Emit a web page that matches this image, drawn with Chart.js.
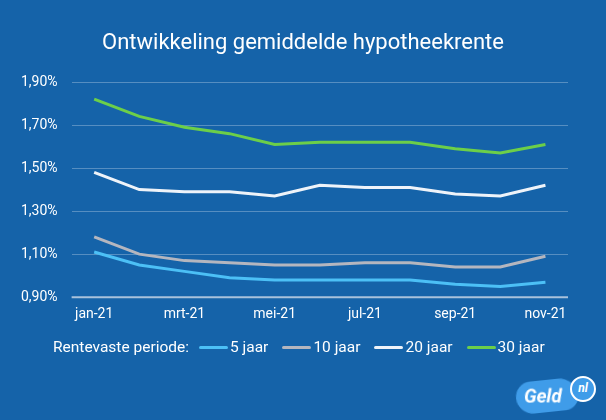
<!DOCTYPE html>
<html lang="nl">
<head>
    <meta charset="UTF-8">
    <title>Ontwikkeling gemiddelde hypotheekrente</title>
    <script src="https://cdn.jsdelivr.net/npm/chart.js"></script>
    <style>
    html, body {
        margin: 0;
        padding: 0;
        background-color: #1563a9;
        font-family: Roboto, Arial, sans-serif;
    }
    .wrap {
        position: relative;
        width: 606px;
        height: 420px;
        overflow: hidden;
    }
    #rente-chart {
        position: absolute;
        left: 0;
        top: 0;
    }
    h1 {
        position: absolute;
        left: 0;
        top: 28px;
        width: 606px;
        margin: 0;
        text-align: center;
        color: #ffffff;
        font-size: 22px;
        font-weight: normal;
        line-height: 28px;
    }
    #legend {
        position: absolute;
        left: 53px;
        top: 338px;
        display: flex;
        align-items: center;
        color: #ffffff;
        font-size: 15.5px;
        white-space: nowrap;
    }
    #legend .title {
        margin-right: 10px;
    }
    #legend .item {
        display: flex;
        align-items: center;
        margin-right: 14px;
    }
    #legend .swatch {
        width: 29px;
        height: 3px;
        border-radius: 2px;
        margin-right: 2px;
    }
    .logo {
        position: absolute;
        left: 516px;
        top: 380px;
        width: 62px;
        height: 32px;
        background: #3f9ce9;
        border-radius: 18px 22px 16px 20px;
        transform: rotate(-6deg);
    }
    .logo span {
        position: absolute;
        left: 8px;
        top: 4px;
        color: #fff;
        font: italic bold 19px Roboto, Arial, sans-serif;
        transform: rotate(6deg);
    }
    .logo-nl {
        position: absolute;
        left: 570px;
        top: 376px;
        width: 22px;
        height: 22px;
        border-radius: 50%;
        background: #3f9ce9;
        border: 2px solid #fff;
        color: #fff;
        font: italic bold 12px Roboto, Arial, sans-serif;
        text-align: center;
        line-height: 21px;
    }
</style>
</head>
<body>
    <div class="wrap">
        <canvas id="rente-chart" width="606" height="420"></canvas>
        <h1>Ontwikkeling gemiddelde hypotheekrente</h1>
        <div id="legend"></div>
        <div class="logo"><span>Geld</span></div>
        <div class="logo-nl">nl</div>
    </div>
    <script>
    // Maanden en rentes (in %)
    const maanden = ['jan-21', 'feb-21', 'mrt-21', 'apr-21', 'mei-21', 'jun-21', 'jul-21', 'aug-21', 'sep-21', 'okt-21', 'nov-21'];
    const rente5 = [1.11, 1.05, 1.02, 0.99, 0.98, 0.98, 0.98, 0.98, 0.96, 0.95, 0.97];
    const rente10 = [1.18, 1.10, 1.07, 1.06, 1.05, 1.05, 1.06, 1.06, 1.04, 1.04, 1.09];
    const rente20 = [1.48, 1.40, 1.39, 1.39, 1.37, 1.42, 1.41, 1.41, 1.38, 1.37, 1.42];
    const rente30 = [1.82, 1.74, 1.69, 1.66, 1.61, 1.62, 1.62, 1.62, 1.59, 1.57, 1.61];
    const seriesLabels = ['5 jaar', '10 jaar', '20 jaar', '30 jaar'];
    const legendTitle = 'Rentevaste periode:';

    const kleuren = ['#4cc0f6', '#b4b6bf', '#eef3f9', '#6ccf49'];
    const reeksen = [rente5, rente10, rente20, rente30];

    const datasets = reeksen.map((data, i) => ({
        label: seriesLabels[i],
        data: data,
        borderColor: kleuren[i],
        backgroundColor: kleuren[i],
        borderWidth: 3,
        pointRadius: 0,
        tension: 0,
        fill: false
    }));

    var ctx = document.getElementById('rente-chart').getContext('2d');
    var chart = new Chart(ctx, {
        type: 'line',
        data: {
            labels: maanden,
            datasets: datasets
        },
        options: {
            responsive: false,
            animation: false,
            layout: {
                padding: { left: 7, right: 38, top: 82, bottom: 88 }
            },
            plugins: {
                legend: { display: false },
                tooltip: { enabled: false },
                title: { display: false }
            },
            scales: {
                x: {
                    offset: true,
                    grid: { display: false, drawTicks: false },
                    border: { display: false },
                    ticks: {
                        color: '#ffffff',
                        font: { family: 'Roboto', size: 14 },
                        autoSkip: false,
                        maxRotation: 0,
                        padding: 9,
                        callback: function (val, index) {
                            return index % 2 === 0 ? this.getLabelForValue(val) : '';
                        }
                    }
                },
                y: {
                    min: 0.9,
                    max: 1.9,
                    grid: {
                        drawTicks: false,
                        lineWidth: 1,
                        color: c => c.index === 0 ? 'rgba(0,0,0,0)' : 'rgba(255,255,255,0.28)'
                    },
                    border: { display: false },
                    ticks: {
                        stepSize: 0.2,
                        color: '#ffffff',
                        font: { family: 'Roboto', size: 14 },
                        padding: 14,
                        callback: v => v.toFixed(2).replace('.', ',') + '%'
                    }
                }
            }
        },
        plugins: [{
            id: 'baseline',
            beforeDatasetsDraw(c) {
                const a = c.chartArea;
                const y = c.scales.y.getPixelForValue(0.9);
                const g = c.ctx;
                g.save();
                g.strokeStyle = '#a9c2dc';
                g.lineWidth = 2;
                g.beginPath();
                g.moveTo(a.left, y);
                g.lineTo(a.right, y);
                g.stroke();
                g.restore();
            }
        }]
    });

    // Legenda opbouwen uit de datasets
    function buildLegend(c) {
        const box = document.getElementById('legend');
        box.innerHTML = '<span class="title">' + legendTitle + '</span>';
        c.data.datasets.forEach(ds => {
            const item = document.createElement('span');
            item.className = 'item';
            item.innerHTML = '<span class="swatch" style="background:' + ds.borderColor + '"></span>' + ds.label;
            box.appendChild(item);
        });
    }
    buildLegend(chart);
</script>
</body>
</html>
